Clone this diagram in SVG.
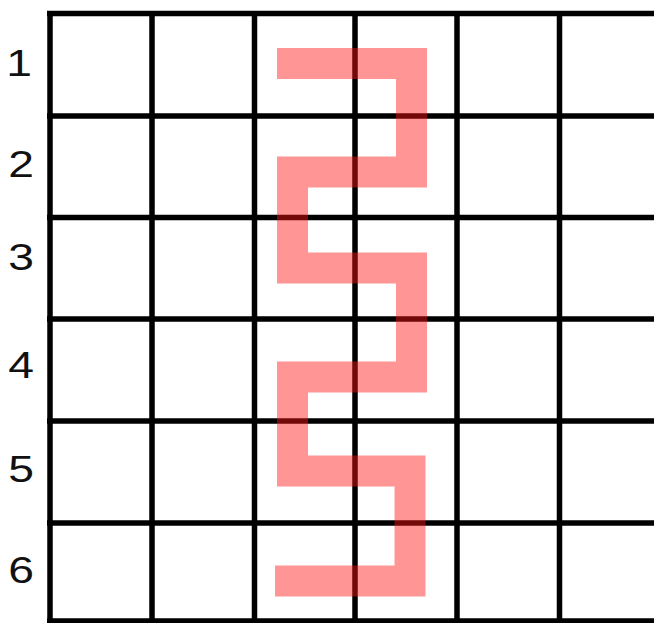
<svg xmlns="http://www.w3.org/2000/svg" width="654" height="623" viewBox="0 0 654 623">
<style>
.g{stroke:#000;stroke-width:5.5;fill:none}
.lbl{font-family:"Liberation Sans",Arial,sans-serif;font-size:37px;fill:#111;text-anchor:middle}
.snake{fill:none;stroke:#ff1414;stroke-opacity:0.45;stroke-width:31;stroke-linejoin:miter;stroke-linecap:butt}
</style>
<rect width="654" height="623" fill="#fff"/>
<g id="grid">
<path class="g" d="M50,11V623M152,11V623M254.5,11V623M355,11V623M457,11V623M559.5,11V623"/>
<path class="g" d="M47,13.5H654M47,116H654M47,217.5H654M47,319H654M47,421H654M47,523H654M47,621H654"/>
</g>
<g id="labels">
<text class="lbl" transform="translate(19,76) scale(1.25,1)">1</text>
<text class="lbl" transform="translate(21,177) scale(1.25,1)">2</text>
<text class="lbl" transform="translate(21,270) scale(1.25,1)">3</text>
<text class="lbl" transform="translate(21,378) scale(1.25,1)">4</text>
<text class="lbl" transform="translate(21,482) scale(1.25,1)">5</text>
<text class="lbl" transform="translate(21,583) scale(1.25,1)">6</text>
</g>
<g id="connectors">
<path id="snake" class="snake" d="M277,63.5H411.5V172H292.5V268H411.5V377H292.5V471H410V581H275"/>
</g>
</svg>
